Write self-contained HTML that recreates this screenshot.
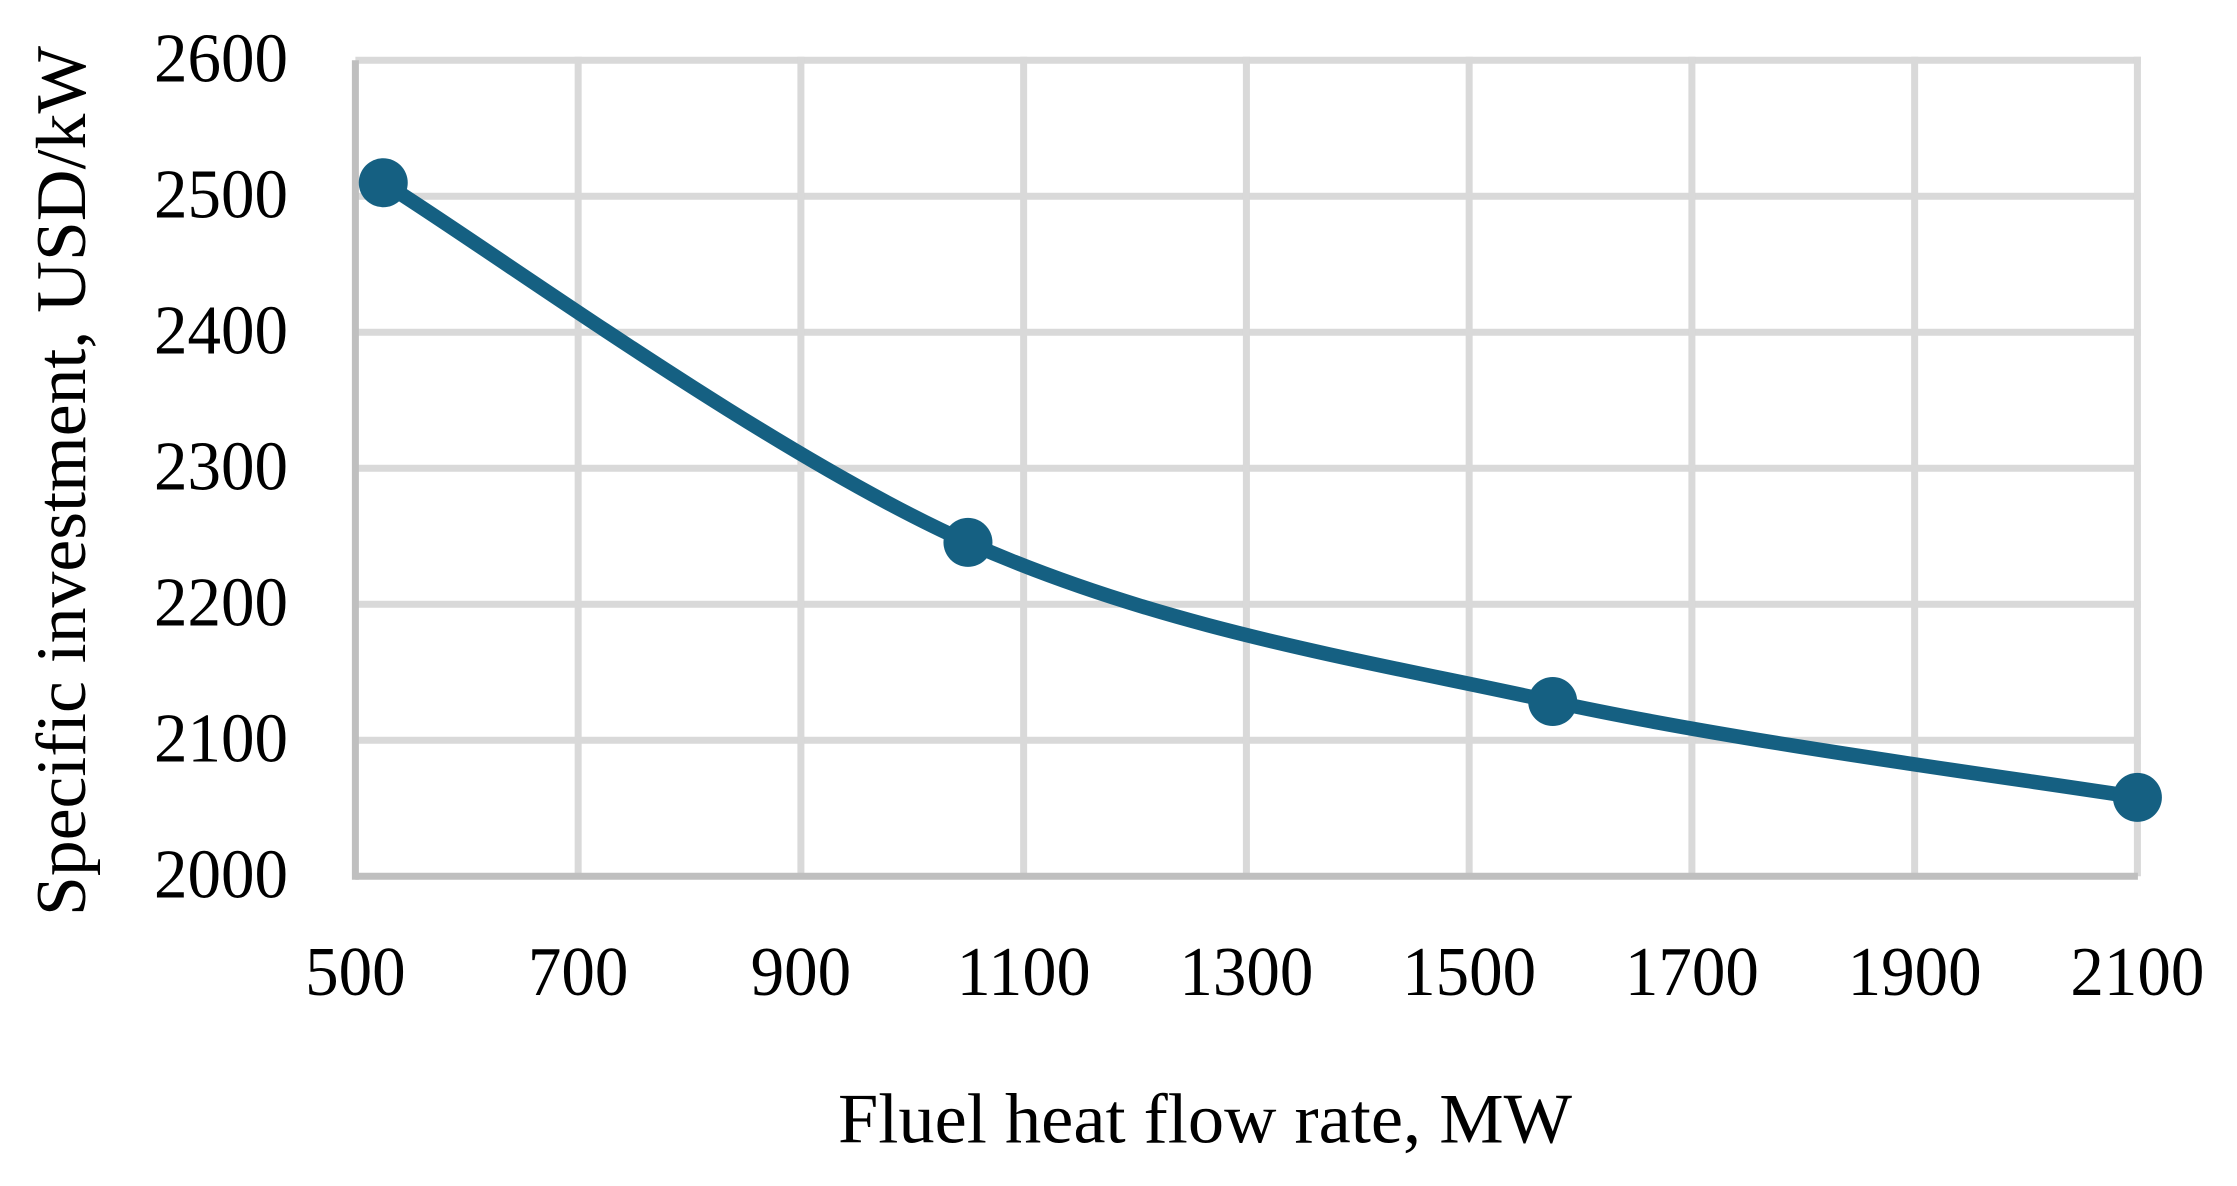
<!DOCTYPE html>
<html lang="en">
<head>
<meta charset="utf-8">
<title>Specific investment vs fuel heat flow rate</title>
<style>
html,body{margin:0;padding:0;background:#fff;}
svg{display:block;}
text{font-family:"Liberation Serif",serif;fill:#000;}
</style>
</head>
<body>
<svg id="chart" xmlns="http://www.w3.org/2000/svg" width="2237" height="1186" viewBox="0 0 2237 1186">
  <rect x="0" y="0" width="2237" height="1186" fill="#ffffff"/>
  <g id="grid"></g>
  <g id="axes"></g>
  <g id="xticks"></g>
  <g id="yticks"></g>
  <g id="series"></g>
  <text x="838" y="1142.7" font-size="71" textLength="734" lengthAdjust="spacingAndGlyphs">Fluel heat flow rate, MW</text>
  <text transform="translate(85,916) rotate(-90)" font-size="71" textLength="870" lengthAdjust="spacingAndGlyphs">Specific investment, USD/kW</text>
</svg>
<script>
const xTickValues = [500, 700, 900, 1100, 1300, 1500, 1700, 1900, 2100];
const yTickValues = [2000, 2100, 2200, 2300, 2400, 2500, 2600];
const heatFlowRate = [525, 1050, 1575, 2100];
const specificInvestment = [2510, 2245.5, 2128.5, 2058];

const NS = 'http://www.w3.org/2000/svg';
const xDomain = [500, 2100], xRange = [355.4, 2137.4];
const yDomain = [2000, 2600], yRange = [876.3, 60.3];
function xScale(v) { return xRange[0] + (v - xDomain[0]) / (xDomain[1] - xDomain[0]) * (xRange[1] - xRange[0]); }
function yScale(v) { return yRange[0] + (v - yDomain[0]) / (yDomain[1] - yDomain[0]) * (yRange[1] - yRange[0]); }
function make(tag, attrs, parent) {
  const el = document.createElementNS(NS, tag);
  for (const k in attrs) el.setAttribute(k, attrs[k]);
  parent.appendChild(el);
  return el;
}

const gridG = document.getElementById('grid');
const axesG = document.getElementById('axes');
const xTicksG = document.getElementById('xticks');
const yTicksG = document.getElementById('yticks');
const seriesG = document.getElementById('series');

yTickValues.forEach(function (v) {
  if (v !== yDomain[0]) {
    const gl = make('line', { x1: xRange[0], x2: xRange[1] + 3.5, y1: yScale(v), y2: yScale(v), stroke: '#d9d9d9', 'stroke-width': 7 }, gridG);
    
    
  }
  const t = make('text', { x: 288, y: yScale(v) + 21, 'font-size': 70, 'text-anchor': 'end', textLength: 134, lengthAdjust: 'spacingAndGlyphs' }, yTicksG);
  t.textContent = String(v);
  
  
});

xTickValues.forEach(function (v) {
  if (v !== xDomain[0]) {
    const gl = make('line', { x1: xScale(v), x2: xScale(v), y1: yRange[1] - 3.5, y2: yRange[0], stroke: '#d9d9d9', 'stroke-width': 7 }, gridG);
    
    
  }
  const s = String(v);
  const t = make('text', { x: xScale(v), y: 995, 'font-size': 70, 'text-anchor': 'middle', textLength: s.length * 33.5, lengthAdjust: 'spacingAndGlyphs' }, xTicksG);
  t.textContent = s;
  
  
});

const yAxisLine = make('line', { x1: xRange[0], x2: xRange[0], y1: yRange[1], y2: yRange[0] + 3.5, stroke: '#bfbfbf', 'stroke-width': 7 }, axesG);


const xAxisLine = make('line', { x1: xRange[0], x2: xRange[1] + 0.5, y1: yRange[0], y2: yRange[0], stroke: '#bfbfbf', 'stroke-width': 7 }, axesG);



const pts = heatFlowRate.map(function (v, i) { return [xScale(v), yScale(specificInvestment[i])]; });
let d = 'M' + pts[0][0] + ' ' + pts[0][1];
for (let i = 0; i < pts.length - 1; i++) {
  const p0 = pts[Math.max(i - 1, 0)], p1 = pts[i], p2 = pts[i + 1], p3 = pts[Math.min(i + 2, pts.length - 1)];
  const c1x = p1[0] + (p2[0] - p0[0]) / 6, c1y = p1[1] + (p2[1] - p0[1]) / 6;
  const c2x = p2[0] - (p3[0] - p1[0]) / 6, c2y = p2[1] - (p3[1] - p1[1]) / 6;
  d += ' C' + c1x + ' ' + c1y + ' ' + c2x + ' ' + c2y + ' ' + p2[0] + ' ' + p2[1];
}
const curve = make('path', { d: d, fill: 'none', stroke: '#156082', 'stroke-width': 14.5, 'stroke-linecap': 'round', 'stroke-linejoin': 'round' }, seriesG);



pts.forEach(function (p) {
  const m = make('circle', { cx: p[0], cy: p[1], r: 24.5, fill: '#156082' }, seriesG);
  
  
});
</script>
</body>
</html>
